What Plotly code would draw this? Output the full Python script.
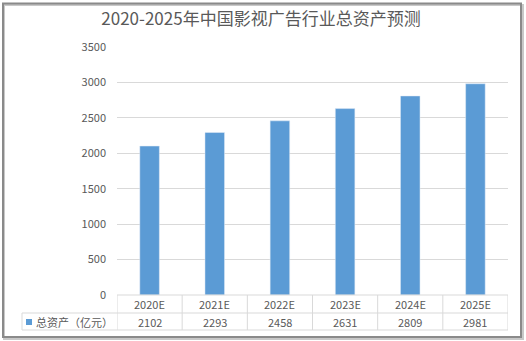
import plotly.graph_objects as go

categories = ["2020E", "2021E", "2022E", "2023E", "2024E", "2025E"]
values = [2102, 2293, 2458, 2631, 2809, 2981]
series_name = "总资产（亿元）"
title_text = "2020-2025年中国影视广告行业总资产预测"
y_ticks = [0, 500, 1000, 1500, 2000, 2500, 3000, 3500]

W, H = 526, 341
ML, MR, MT, MB = 117, 18, 47, 46
PW, PH = W - ML - MR, H - MT - MB

def px_x(p):
    return (p - ML) / PW

def px_y(p):
    return (H - MB - p) / PH

BAR = "#5b9bd5"
GRID = "#d9d9d9"
TXT = "#595959"
FONT = "Noto Sans CJK SC"

fig = go.Figure()
fig.add_trace(go.Bar(x=categories, y=values, marker_color=BAR, width=0.3,
                     name=series_name, showlegend=False))

shapes = []
row1_bot = px_y(313)
row2_bot = px_y(330)
n = len(categories)
for yy in [0, row1_bot, row2_bot]:
    shapes.append(dict(type="line", xref="x", yref="paper", x0=-0.5, x1=n - 0.5,
                       y0=yy, y1=yy, line=dict(color=GRID, width=1)))
for i in range(n + 1):
    shapes.append(dict(type="line", xref="x", yref="paper", x0=i - 0.5, x1=i - 0.5,
                       y0=0, y1=row2_bot, line=dict(color=GRID, width=1)))
lx = px_x(22)
for yy in [row1_bot, row2_bot]:
    shapes.append(dict(type="line", xref="paper", yref="paper", x0=lx, x1=0,
                       y0=yy, y1=yy, line=dict(color=GRID, width=1)))
shapes.append(dict(type="line", xref="paper", yref="paper", x0=lx, x1=lx,
                   y0=row1_bot, y1=row2_bot, line=dict(color=GRID, width=1)))
shapes.append(dict(type="rect", xref="paper", yref="paper",
                   x0=px_x(26), x1=px_x(32), y0=px_y(325), y1=px_y(319),
                   fillcolor=BAR, line=dict(width=0)))
shapes.append(dict(type="rect", xref="paper", yref="paper",
                   x0=px_x(4), x1=px_x(523), y0=px_y(339), y1=px_y(5),
                   line=dict(color="#c8c8c8", width=2), layer="below"))
shapes.append(dict(type="rect", xref="paper", yref="paper",
                   x0=px_x(3), x1=px_x(521), y0=px_y(337), y1=px_y(3.5),
                   line=dict(color="#8a8a8a", width=2), layer="below"))

annotations = []
for c, v in zip(categories, values):
    annotations.append(dict(x=c, xref="x", y=(0 + row1_bot) / 2, yref="paper",
                            text=c, showarrow=False, yanchor="middle",
                            font=dict(size=11, color=TXT, family=FONT)))
    annotations.append(dict(x=c, xref="x", y=(row1_bot + row2_bot) / 2, yref="paper",
                            text=str(v), showarrow=False, yanchor="middle",
                            font=dict(size=11, color=TXT, family=FONT)))
annotations.append(dict(x=px_x(34), xref="paper", y=(row1_bot + row2_bot) / 2, yref="paper",
                        text=series_name, showarrow=False, xanchor="left", yanchor="middle",
                        font=dict(size=11, color=TXT, family=FONT)))

fig.update_layout(
    width=W, height=H,
    margin=dict(l=ML, r=MR, t=MT, b=MB),
    paper_bgcolor="white", plot_bgcolor="white",
    title=dict(text=title_text, x=261 / W, xref="container", xanchor="center",
               y=1 - 19 / H, yref="container", yanchor="middle",
               font=dict(size=17, color=TXT, family=FONT)),
    xaxis=dict(showticklabels=False, showgrid=False, zeroline=False, showline=False,
               ticks="", range=[-0.5, n - 0.5]),
    yaxis=dict(range=[0, 3500], tickvals=y_ticks, showgrid=True, gridcolor=GRID,
               gridwidth=1, zeroline=False, showline=False, ticks="",
               tickfont=dict(size=11, color=TXT, family=FONT), ticklabelstandoff=10),
    shapes=shapes, annotations=annotations, bargap=0.7,
)
fig.write_html("out.html")
